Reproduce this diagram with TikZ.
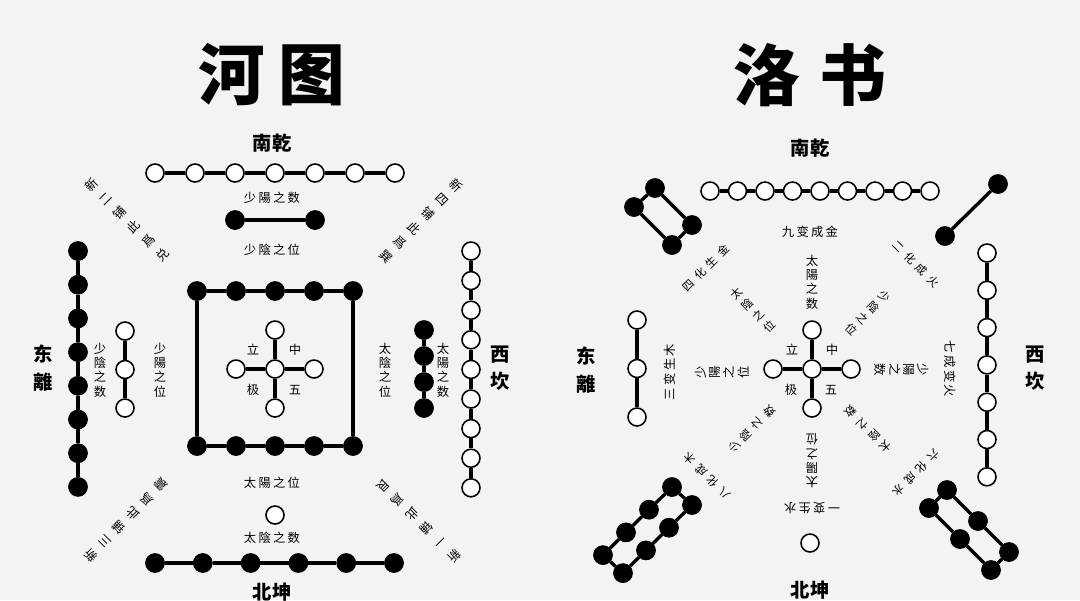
\documentclass[tikz,border=0pt]{standalone}
\usepackage{fontspec}
\usepackage{graphicx}
\setmainfont{Noto Sans CJK SC}
\definecolor{bg}{RGB}{243,243,243}
\newcommand\hs{\hspace{1.3pt}}
\newcommand\hd{\hspace{3pt}}
\newcommand\rv[1]{\rotatebox[origin=c]{90}{#1}}
\newcommand\rvs[4]{\rv{#1}\hd\rv{#2}\hd\rv{#3}\hd\rv{#4}}
\newcommand\rvz[4]{\rv{#1}\hd\rv{#2}\hd\rv{#3}\hspace{4pt}\rv{#4}}
\newcommand\dgs[4]{#1\hd{}#2\hd{}#3\hd{}#4}
\begin{document}
\begin{tikzpicture}[x=0.02cm,y=-0.02cm,
  wc/.style={circle,draw=black,fill=white,line width=0.9pt,minimum size=0.36cm,inner sep=0pt},
  bc/.style={circle,draw=black,fill=black,minimum size=0.38cm,inner sep=0pt},
  ln/.style={line width=1.9pt},
  sq/.style={line width=2.2pt},
  lab/.style={font=\fontsize{7}{8.2}\selectfont,align=center,inner sep=0pt},
  dg/.style={font=\fontsize{6.4}{8}\selectfont,inner sep=0pt},
  dlab/.style={font=\fontsize{7}{11.3}\selectfont,align=center,inner sep=0pt},
  dir/.style={font=\fontsize{11}{15.5}\selectfont\bfseries,align=center,inner sep=0pt},
  ttl/.style={font=\fontsize{38}{38}\selectfont\bfseries,inner sep=0pt}]
\fill[bg] (0,0) rectangle (1080,600);
\useasboundingbox (0,0) rectangle (1080,600);

% ================= 河图 =================
\node[ttl] (hetu) at (272,75) {河\hspace{8pt}图};
\node[dir] (hS) at (272,143) {南乾};
\node[dir] (hN) at (272,592) {北坤};
\node[dir] (hE) at (43,368) {东\\離};
\node[dir] (hW) at (500,368) {西\\坎};

% top row 7 white
\foreach \i in {1,...,7} \node[wc] (ht\i) at ({115+40*\i},173) {};
\foreach \i [count=\j from 2] in {1,...,6} \draw[ln] (ht\i) -- (ht\j);
% pair black
\node[bc] (hp1) at (235,220) {};
\node[bc] (hp2) at (315,220) {};
\draw[ln] (hp1) -- (hp2);
% square
\foreach \i in {1,...,5} {
  \node[bc] (hq\i) at ({158+39*\i},291) {};
  \node[bc] (hr\i) at ({158+39*\i},446) {};
}
\foreach \i [count=\j from 2] in {1,...,4} {
  \draw[sq] (hq\i) -- (hq\j);
  \draw[sq] (hr\i) -- (hr\j);
}
\draw[sq] (hq1) -- (hr1);
\draw[sq] (hq5) -- (hr5);
% cross
\node[wc] (hc) at (275,369) {};
\node[wc] (hcu) at (275,330) {};
\node[wc] (hcd) at (275,408) {};
\node[wc] (hcl) at (236,369) {};
\node[wc] (hcr) at (314,369) {};
\draw[ln] (hc) -- (hcu) (hc) -- (hcd) (hc) -- (hcl) (hc) -- (hcr);
\node[lab] (hx1) at (253,350) {立};
\node[lab] (hx2) at (295,350) {中};
\node[lab] (hx3) at (253,390) {极};
\node[lab] (hx4) at (295,390) {五};
% bottom
\node[wc] (hb) at (275,515) {};
\foreach \i in {0,...,5} \node[bc] (hn\i) at ({155+47.8*\i},563) {};
\foreach \i [count=\j from 1] in {0,...,4} \draw[ln] (hn\i) -- (hn\j);
% left 8 black
\foreach \i in {0,...,7} \node[bc] (hl\i) at (78,{251+33.7*\i}) {};
\foreach \i [count=\j from 1] in {0,...,6} \draw[ln] (hl\i) -- (hl\j);
% small 3 white
\foreach \i in {0,...,2} \node[wc] (hw\i) at (125,{331+38.5*\i}) {};
\draw[ln] (hw0) -- (hw1) (hw1) -- (hw2);
% 4 black
\foreach \i in {0,...,3} \node[bc] (hk\i) at (424,{330+26*\i}) {};
\foreach \i [count=\j from 1] in {0,...,2} \draw[ln] (hk\i) -- (hk\j);
% right 9 white
\foreach \i in {0,...,8} \node[wc] (hz\i) at (471,{251+29.6*\i}) {};
\foreach \i [count=\j from 1] in {0,...,7} \draw[ln] (hz\i) -- (hz\j);

% labels
\node[lab] (hl1) at (272,198) {少\hs{}陽\hs{}之\hs{}数};
\node[lab] (hl2) at (272,250) {少\hs{}陰\hs{}之\hs{}位};
\node[lab] (hl3) at (272,483) {太\hs{}陽\hs{}之\hs{}位};
\node[lab] (hl4) at (272,538) {太\hs{}陰\hs{}之\hs{}数};
\node[lab] (hl5) at (100,370) {少\\陰\\之\\数};
\node[lab] (hl6) at (160,370) {少\\陽\\之\\位};
\node[lab] (hl7) at (385,370) {太\\陰\\之\\位};
\node[lab] (hl8) at (443,370) {太\\陽\\之\\数};
% diagonals
\node[dlab,rotate=45] (hd1) at (127,220) {新\\二\\铺\\此\\爲\\兑};
\node[dlab,rotate=-45] (hd2) at (421,221) {新\\四\\铺\\此\\爲\\巽};
\node[dlab,rotate=135] (hd3) at (126,520) {新\\三\\铺\\此\\爲\\震};
\node[dlab,rotate=-135] (hd4) at (419,521) {新\\一\\铺\\此\\爲\\艮};

% ================= 洛书 =================
\node[ttl] (luoshu) at (810,75) {洛\hspace{11pt}书};
\node[dir] (lS) at (810,148) {南乾};
\node[dir] (lN) at (810,590) {北坤};
\node[dir] (lE) at (586,370) {东\\離};
\node[dir] (lW) at (1035,368) {西\\坎};

% top 9 white
\foreach \i in {0,...,8} \node[wc] (lt\i) at ({710+27.5*\i},191) {};
\foreach \i [count=\j from 1] in {0,...,7} \draw[ln] (lt\i) -- (lt\j);
% top-left 4 black
\node[bc] (ra) at (655,188) {};
\node[bc] (rb) at (692,225) {};
\node[bc] (rc) at (672,245) {};
\node[bc] (rd) at (634,207) {};
\draw[ln] (ra) -- (rb) -- (rc) -- (rd) -- (ra);
% top-right 2 black
\node[bc] (le) at (998,184) {};
\node[bc] (lf) at (945,236) {};
\draw[ln] (le) -- (lf);
% left 3 white
\foreach \i in {0,...,2} \node[wc] (ll\i) at (637,{320+48.5*\i}) {};
\draw[ln] (ll0) -- (ll1) (ll1) -- (ll2);
% right 7 white
\foreach \i in {0,...,6} \node[wc] (lr\i) at (987,{253+37.3*\i}) {};
\foreach \i [count=\j from 1] in {0,...,5} \draw[ln] (lr\i) -- (lr\j);
% cross
\node[wc] (lc) at (812,369) {};
\node[wc] (lcu) at (812,330) {};
\node[wc] (lcd) at (812,408) {};
\node[wc] (lcl) at (773,369) {};
\node[wc] (lcr) at (851,369) {};
\draw[ln] (lc) -- (lcu) (lc) -- (lcd) (lc) -- (lcl) (lc) -- (lcr);
\node[lab] (lx1) at (792,350) {立};
\node[lab] (lx2) at (832,350) {中};
\node[lab] (lx3) at (791,390) {极};
\node[lab] (lx4) at (831,390) {五};
% bottom white
\node[wc] (lbw) at (810,543) {};
% bottom-left 8 black
\foreach \i in {0,...,3} {
  \node[bc] (u\i) at ({672-23*\i},{487+22.7*\i}) {};
  \node[bc] (v\i) at ({692-23*\i},{505+22.7*\i}) {};
}
\draw[ln] (u0) -- (u1) -- (u2) -- (u3) -- (v3) -- (v2) -- (v1) -- (v0) -- (u0);
% bottom-right 6 black
\foreach \i in {0,...,2} {
  \node[bc] (p\i) at ({947+31*\i},{490+31*\i}) {};
  \node[bc] (q\i) at ({929+31*\i},{508+31*\i}) {};
}
\draw[ln] (p0) -- (p1) -- (p2) -- (q2) -- (q1) -- (q0) -- (p0);

% labels
\node[lab] (m1) at (810,232) {九\hs{}变\hs{}成\hs{}金};
\node[lab] (m2) at (812,282) {太\\陽\\之\\数};
\node[dg,rotate=45] (m3) at (706,268) {\dgs{四}{化}{生}{金}};
\node[dg,rotate=-45] (m4) at (753,310) {\rvs{太}{陰}{之}{位}};
\node[dg,rotate=-45] (m5) at (916,264) {\dgs{二}{化}{成}{火}};
\node[dg,rotate=-135] (m6) at (868,313) {\rvs{少}{陰}{之}{位}};
\node[lab,rotate=90] (m7) at (670,372) {三\hs{}变\hs{}生\hs{}木};
\node[lab,rotate=90] (m8) at (722,372) {少\\陽\\之\\位};
\node[lab,rotate=-90] (m9) at (950,369) {七\hs{}成\hs{}变\hs{}火};
\node[lab,rotate=-90] (m10) at (902,370) {少\\陽\\之\\数};
\node[dg,rotate=135] (m11) at (707,476) {\dgs{八}{化}{成}{木}};
\node[dg,rotate=45] (m12) at (752,429) {\rvz{少}{陰}{之}{数}};
\node[dg,rotate=-135] (m13) at (916,473) {\dgs{六}{化}{成}{水}};
\node[dg,rotate=135] (m14) at (868,429) {\rvz{太}{陰}{之}{数}};
\node[lab,rotate=180] (m15) at (812,461) {太\\陽\\之\\位};
\node[lab,rotate=180] (m16) at (812,508) {一\hs{}变\hs{}生\hs{}水};
\end{tikzpicture}
\end{document}
